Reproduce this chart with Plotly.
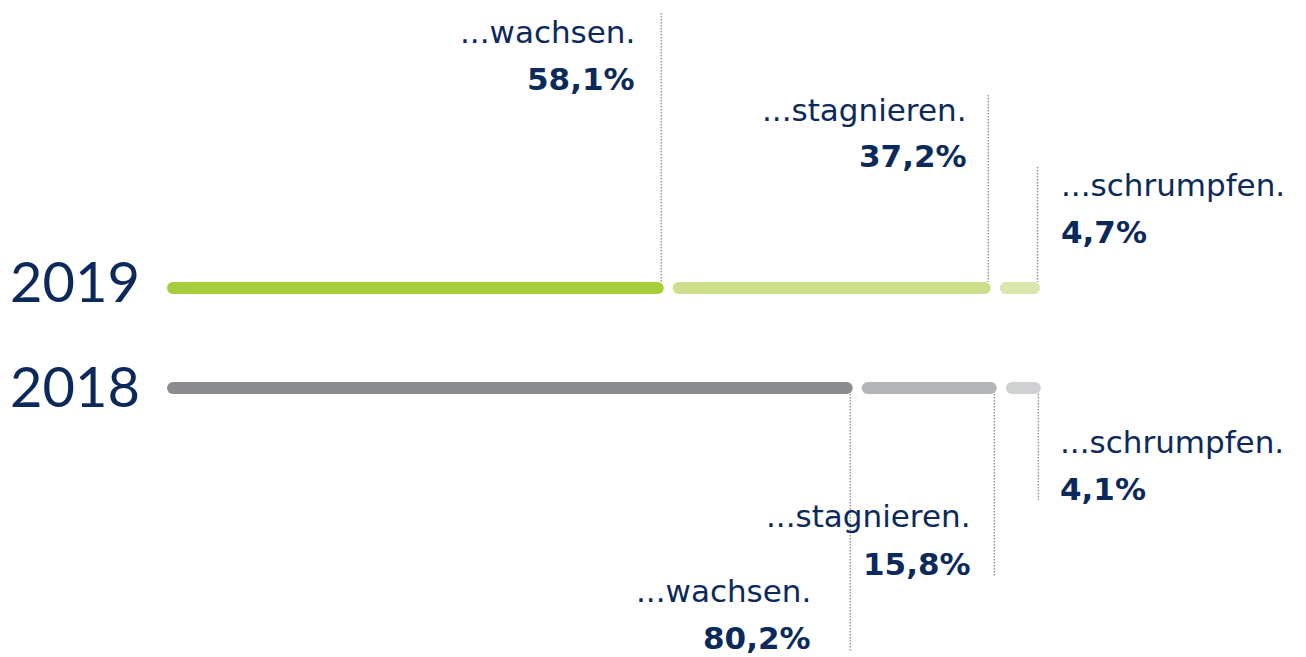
import plotly.graph_objects as go

# ---------------- data ----------------
years = ["2019", "2018"]
categories = ["...wachsen.", "...stagnieren.", "...schrumpfen."]
values_2019 = [58.1, 37.2, 4.7]
values_2018 = [80.2, 15.8, 4.1]

# ---------------- style ----------------
OFF = 8                      # default body margin of the html page
W, H = 1306 - OFF, 657 - OFF
PX = 8.55                    # pixels per percentage point
X0_PX = 167 - OFF            # pixel where 0 % sits
GAP_PX = 9
THICK = 12
NAVY = "#0b2a5b"
LBL_FONT = "DejaVu Sans"
YEAR_FONT = "Lato"
colors = {
    "2019": ["#a6ce39", "#cbdf8b", "#dae8ae"],
    "2018": ["#8b8c8f", "#b4b5b7", "#cfd0d1"],
}
ROW_PX = {"2019": 288 - OFF, "2018": 388 - OFF}
step = ROW_PX["2018"] - ROW_PX["2019"]
yr0 = 1 + ROW_PX["2019"] / step
yrange = [yr0 - H / step, yr0]
xrange = [-X0_PX / PX, (W - X0_PX) / PX]

gap = GAP_PX / PX
cap = (THICK / 2) / PX

# label placement (pixel offsets from segment end; baselines / leader ends in screen px)
label_layout = {
    "2019": [dict(dx=-27, side="right", base=(44, 91), lead=(13, 282)),
             dict(dx=-22, side="right", base=(122, 168), lead=(95, 282)),
             dict(dx=19, side="left", base=(197, 244), lead=(167, 282))],
    "2018": [dict(dx=-40, side="right", base=(603, 650), lead=(394, 651)),
             dict(dx=-24, side="right", base=(528, 576), lead=(394, 577)),
             dict(dx=17, side="left", base=(454, 501), lead=(394, 500))],
}
year_layout = {"2019": dict(right=142, base=303), "2018": dict(right=142, base=408)}
LBL_SIZE = 31
YEAR_SIZE = 56
DESC = {"Open Sans": 0.293, "Lato": 0.213, "DejaVu Sans": 0.236}


def fmt(v):
    return f"{v:.1f}".replace(".", ",") + "%"


def paper_y_bottom(baseline_px, size, font):
    d = DESC[font] * size + 1
    return 1 - (baseline_px - OFF + d) / H


fig = go.Figure()
shapes = []
annotations = []

for yr, vals in (("2019", values_2019), ("2018", values_2018)):
    ycat = 1 if yr == "2019" else 0
    start = 0.0
    for i, v in enumerate(vals):
        a, b = start, start + v
        fig.add_trace(go.Scatter(
            x=[a + cap, b - cap], y=[ycat, ycat], mode="lines+markers",
            line=dict(color=colors[yr][i], width=THICK),
            marker=dict(color=colors[yr][i], size=THICK, line=dict(width=0)),
            hoverinfo="skip", showlegend=False))
        lay = label_layout[yr][i]
        lead_x = b - 2.5 / PX
        shapes.append(dict(type="line", xref="x", yref="paper",
                           x0=lead_x, x1=lead_x,
                           y0=1 - (lay["lead"][0] - OFF) / H,
                           y1=1 - (lay["lead"][1] - OFF) / H,
                           line=dict(color="#8a8a8a", width=1.3, dash="1.5px,1.5px")))
        tx = (X0_PX + b * PX + lay["dx"]) / W
        xanchor = "right" if lay["side"] == "right" else "left"
        annotations.append(dict(xref="paper", yref="paper", x=tx,
                                y=paper_y_bottom(lay["base"][0], LBL_SIZE, LBL_FONT),
                                xanchor=xanchor, yanchor="bottom", showarrow=False,
                                text=categories[i],
                                font=dict(family=LBL_FONT, size=LBL_SIZE, color=NAVY)))
        annotations.append(dict(xref="paper", yref="paper", x=tx,
                                y=paper_y_bottom(lay["base"][1], LBL_SIZE, LBL_FONT),
                                xanchor=xanchor, yanchor="bottom", showarrow=False,
                                text="<b>" + fmt(v) + "</b>",
                                font=dict(family=LBL_FONT, size=LBL_SIZE, color=NAVY)))
        start = b + gap

for yr in years:
    yl = year_layout[yr]
    annotations.append(dict(xref="paper", yref="paper", x=(yl["right"] - OFF) / W,
                            y=paper_y_bottom(yl["base"], YEAR_SIZE, YEAR_FONT),
                            xanchor="right", yanchor="bottom", showarrow=False,
                            text=yr, font=dict(family=YEAR_FONT, size=YEAR_SIZE, color=NAVY)))

fig.update_layout(
    width=W, height=H, margin=dict(l=0, r=0, t=0, b=0),
    paper_bgcolor="white", plot_bgcolor="white",
    xaxis=dict(range=xrange, visible=False, fixedrange=True),
    yaxis=dict(range=yrange, visible=False, fixedrange=True),
    shapes=shapes, annotations=annotations, showlegend=False,
)

fig.write_html("out.html")
